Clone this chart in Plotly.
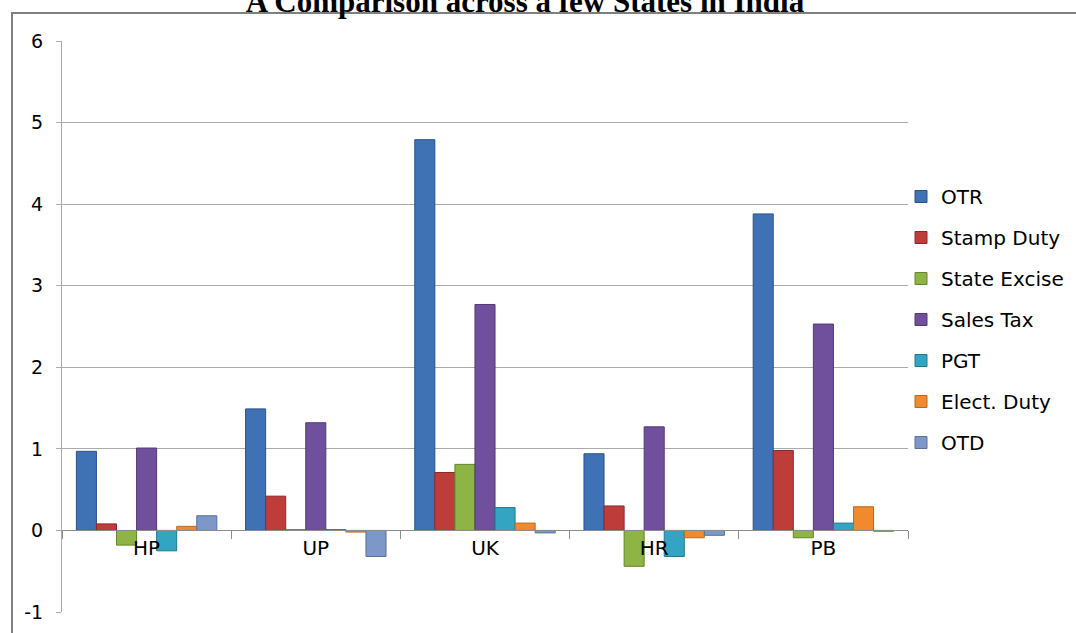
import plotly.graph_objects as go

# States on the category axis
states = ["HP", "UP", "UK", "HR", "PB"]

# Revenue components (one list per series, values per state)
otr = [0.97, 1.49, 4.79, 0.94, 3.88]
stamp_duty = [0.08, 0.42, 0.71, 0.30, 0.98]
state_excise = [-0.18, 0.01, 0.81, -0.44, -0.09]
sales_tax = [1.01, 1.32, 2.77, 1.27, 2.53]
pgt = [-0.25, 0.01, 0.28, -0.32, 0.09]
elect_duty = [0.05, -0.02, 0.09, -0.09, 0.29]
otd = [0.18, -0.32, -0.03, -0.06, -0.01]

y_ticks = [-1, 0, 1, 2, 3, 4, 5, 6]

series = [
    ("OTR", otr, "#3F71B5", "#2A5388"),
    ("Stamp Duty", stamp_duty, "#BE3D3A", "#8C2A28"),
    ("State Excise", state_excise, "#8DB444", "#67852F"),
    ("Sales Tax", sales_tax, "#70509C", "#523A73"),
    ("PGT", pgt, "#33A5C2", "#24788E"),
    ("Elect. Duty", elect_duty, "#F08A2E", "#B9681F"),
    ("OTD", otd, "#7D98C8", "#5B7199"),
]

fig = go.Figure()
for name, vals, color, edge in series:
    fig.add_trace(go.Bar(
        name=name, x=states, y=vals, legendgroup=name,
        marker=dict(color=color, line=dict(color=edge, width=1)),
    ))

# plot area geometry (pixels)
W, H = 1076, 633
L, R, T, B = 62, 908, 41, 612
ymin, ymax = -1, 6
zero_frac = (0 - ymin) / (ymax - ymin)

label_font = "DejaVu Sans, sans-serif"

fig.update_layout(
    width=W, height=H,
    margin=dict(l=L, r=W - R, t=T, b=H - B, autoexpand=False),
    paper_bgcolor="white", plot_bgcolor="white",
    barmode="group", bargap=0.17, bargroupgap=0,
    font=dict(family=label_font, size=19, color="#000000"),
    showlegend=True,
    legend=dict(
        x=(901 - L) / (R - L), xanchor="left",
        y=(B - 177) / (B - T), yanchor="top",
        font=dict(size=20, family=label_font),
        tracegroupgap=12, bgcolor="rgba(0,0,0,0)",
        itemwidth=30,
    ),
    title=dict(
        text="<b>A Comparison across a few States in India</b>",
        font=dict(family="Liberation Serif, Times New Roman, serif", size=31, color="#000000"),
        x=525 / W, xanchor="center", xref="container",
        y=1 - 12 / H, yanchor="bottom", yref="container",
        pad=dict(t=0, b=0, l=0, r=0),
    ),
    yaxis=dict(
        range=[ymin, ymax], tickvals=y_ticks, ticktext=[str(v) for v in y_ticks],
        showgrid=True, gridcolor="#ABABAB", gridwidth=1,
        zeroline=False,
        showline=True, linecolor="#ABABAB", linewidth=1,
        ticks="outside", ticklen=5, tickcolor="#ABABAB",
        tickfont=dict(size=19), ticklabelstandoff=9,
    ),
    xaxis=dict(
        anchor="free", position=zero_frac,
        showline=True, linecolor="#8C8C8C", linewidth=1,
        ticks="outside", tickson="boundaries", ticklen=8, tickcolor="#8C8C8C",
        showgrid=False, tickfont=dict(size=20),
        ticklabelstandoff=0,
    ),
    shapes=[
        # page frame: top rule and left rule
        dict(type="line", xref="paper", yref="paper",
             x0=(11 - L) / (R - L), x1=(W - L) / (R - L),
             y0=(B - 13) / (B - T), y1=(B - 13) / (B - T),
             line=dict(color="#7F7F7F", width=2)),
        dict(type="line", xref="paper", yref="paper",
             x0=(12 - L) / (R - L), x1=(12 - L) / (R - L),
             y0=(B - 13) / (B - T), y1=(B - H) / (B - T),
             line=dict(color="#7F7F7F", width=2)),
    ],
)

fig.write_html("out.html")
